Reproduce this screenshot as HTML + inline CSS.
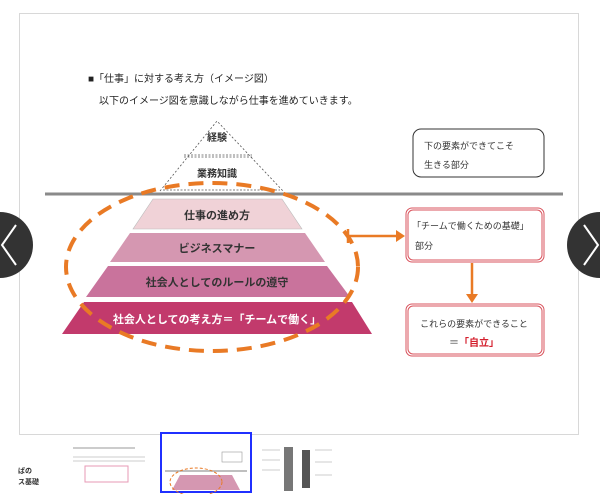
<!DOCTYPE html>
<html><head><meta charset="utf-8"><style>
body{margin:0;width:600px;height:494px;background:#fff;overflow:hidden;font-family:"Liberation Sans","Noto Sans CJK JP",sans-serif;position:relative}
.t{position:absolute;white-space:nowrap;color:#222}
</style></head><body>
<div style="position:absolute;left:19px;top:13px;width:558px;height:420px;border:1px solid #d8d8d8"></div>
<div class="t" style="left:88px;top:70px;font-size:10px">■「仕事」に対する考え方（イメージ図）</div>
<div class="t" style="left:99px;top:92px;font-size:10px">以下のイメージ図を意識しながら仕事を進めていきます。</div>
<svg width="600" height="494" style="position:absolute;left:0;top:0" font-family="Liberation Sans,Noto Sans CJK JP,sans-serif">
<polyline points="160,191 217,121 283,191" fill="none" stroke="#555" stroke-width="0.8" stroke-dasharray="2,2"/>
<line x1="184" y1="155" x2="252" y2="155" stroke="#555" stroke-width="0.8" stroke-dasharray="2,1.5"/>
<line x1="184" y1="157" x2="252" y2="157" stroke="#555" stroke-width="0.8" stroke-dasharray="2,1.5"/>
<line x1="163" y1="190" x2="280" y2="190" stroke="#555" stroke-width="0.8" stroke-dasharray="2,1.5"/>
<text x="217" y="141" font-size="10" font-weight="bold" text-anchor="middle" fill="#333">経験</text>
<text x="217" y="177" font-size="10" font-weight="bold" text-anchor="middle" fill="#333">業務知識</text>
<line x1="45" y1="194" x2="563" y2="194" stroke="#8a8a8a" stroke-width="3"/>
<polygon points="153,199 282,199 302,229 133,229" fill="#f0d2d7" stroke="#bbb" stroke-width="0.6"/>
<polygon points="130,233 305,233 325,262 110,262" fill="#d597b1"/>
<polygon points="108,266 327,266 350,297 86,297" fill="#c9739c"/>
<polygon points="84,302 352,302 372,334 62,334" fill="#c23a6c"/>
<text x="217" y="219" font-size="11" font-weight="bold" text-anchor="middle" fill="#333">仕事の進め方</text>
<text x="217" y="252" font-size="11" font-weight="bold" text-anchor="middle" fill="#333">ビジネスマナー</text>
<text x="217" y="286" font-size="11" font-weight="bold" text-anchor="middle" fill="#333">社会人としてのルールの遵守</text>
<text x="217" y="323" font-size="11" font-weight="bold" text-anchor="middle" fill="#fff">社会人としての考え方＝「チームで働く」</text>
<ellipse cx="212" cy="267" rx="146" ry="84" fill="none" stroke="#e97a25" stroke-width="4" stroke-dasharray="15,9"/>
<line x1="348" y1="236" x2="398" y2="236" stroke="#e97a25" stroke-width="2.5"/>
<line x1="348" y1="229" x2="348" y2="243" stroke="#e97a25" stroke-width="2.5"/>
<polygon points="396,230 405,236 396,242" fill="#e97a25"/>
<line x1="472" y1="263" x2="472" y2="296" stroke="#e97a25" stroke-width="2.5"/>
<polygon points="466,294 472,303 478,294" fill="#e97a25"/>
<rect x="406" y="208" width="138" height="54" rx="6" fill="#fff" stroke="#d9535d" stroke-width="1"/>
<rect x="408" y="210" width="134" height="50" rx="5" fill="none" stroke="#d9535d" stroke-width="1"/>
<rect x="406" y="304" width="138" height="52" rx="6" fill="#fff" stroke="#d9535d" stroke-width="1"/>
<rect x="408" y="306" width="134" height="48" rx="5" fill="none" stroke="#d9535d" stroke-width="1"/>
<text x="412" y="229" font-size="9" fill="#333">「チームで働くための基礎」</text>
<text x="415" y="249" font-size="9" fill="#333">部分</text>
<text x="474" y="327" font-size="9" fill="#333" text-anchor="middle">これらの要素ができること</text>
<text x="474" y="346" font-size="10" fill="#333" text-anchor="middle">＝<tspan fill="#d4202e" font-weight="bold">「自立」</tspan></text>
<rect x="413" y="129" width="131" height="48" rx="8" fill="#fff" stroke="#333" stroke-width="1"/>
<text x="424" y="149" font-size="9" fill="#333">下の要素ができてこそ</text>
<text x="424" y="168" font-size="9" fill="#333">生きる部分</text>
<circle cx="0" cy="245" r="33" fill="#333"/>
<polyline points="16,225 2,245 16,265" fill="none" stroke="#fff" stroke-width="2"/>
<circle cx="600" cy="245" r="33" fill="#333"/>
<polyline points="584,225 598,245 584,265" fill="none" stroke="#fff" stroke-width="2"/>
<text x="18" y="473" font-size="7" font-weight="bold" fill="#333">ぱの</text>
<text x="18" y="484" font-size="7" font-weight="bold" fill="#333">ス基礎</text>
<rect x="72" y="444" width="80" height="48" fill="#fff"/>
<line x1="73" y1="448" x2="135" y2="448" stroke="#999" stroke-width="1"/>
<line x1="73" y1="457" x2="145" y2="457" stroke="#ccc" stroke-width="1"/>
<line x1="73" y1="461" x2="145" y2="461" stroke="#ccc" stroke-width="1"/>
<rect x="85" y="466" width="43" height="16" fill="none" stroke="#e79ab5"/>
<rect x="161" y="433" width="90" height="59" fill="#fff" stroke="#2030ff" stroke-width="2"/>
<line x1="165" y1="471" x2="247" y2="471" stroke="#aaa" stroke-width="1.5"/>
<polygon points="180,475 232,475 240,490 172,490" fill="#d597b1"/>
<ellipse cx="196" cy="482" rx="26" ry="14" fill="none" stroke="#e97a25" stroke-dasharray="3,2"/>
<rect x="222" y="452" width="20" height="10" fill="none" stroke="#999" stroke-width="0.6"/>
<rect x="284" y="447" width="9" height="44" fill="#777"/>
<rect x="302" y="450" width="8" height="38" fill="#555"/>
<line x1="262" y1="450" x2="280" y2="450" stroke="#ccc"/><line x1="262" y1="460" x2="280" y2="460" stroke="#ccc"/><line x1="262" y1="470" x2="280" y2="470" stroke="#ccc"/>
<line x1="315" y1="450" x2="332" y2="450" stroke="#ccc"/><line x1="315" y1="462" x2="332" y2="462" stroke="#ccc"/><line x1="315" y1="475" x2="332" y2="475" stroke="#ccc"/>
</svg>
</body></html>
